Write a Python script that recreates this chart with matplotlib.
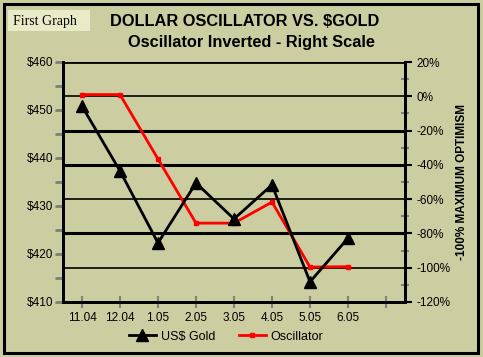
import numpy as np
import matplotlib
matplotlib.use("Agg")
import matplotlib.pyplot as plt
from matplotlib.patches import Rectangle
from matplotlib.ticker import MultipleLocator, FuncFormatter

months = ["11.04", "12.04", "1.05", "2.05", "3.05", "4.05", "5.05", "6.05"]
gold = [450.8, 437.3, 422.3, 434.8, 427.3, 434.4, 414.2, 423.3]
oscillator = [1.0, 1.0, -36.6, -74.0, -74.0, -61.7, -99.6, -99.4]

BG = "#CDCDA2"
GREY = "#808080"
plt.rcParams["font.family"] = ["Liberation Sans", "DejaVu Sans"]

fig = plt.figure(figsize=(4.83, 3.57), dpi=100, facecolor=BG)
ax = fig.add_axes([63 / 483, 1 - 302 / 357, 342 / 483, 240 / 357])
ax.set_facecolor(BG)
ax2 = ax.twinx()

x = np.arange(len(months))
ax.set_xlim(-0.5, len(months) + 0.5)
ax.set_xticks(np.arange(len(months) + 1))
ax.set_xticklabels(months + [""], fontsize=8.5)
ax.tick_params(axis="x", direction="inout", length=9, width=1.5, color=GREY, pad=3)

ax.set_ylim(410, 460)
ax.yaxis.set_major_locator(MultipleLocator(10))
ax.yaxis.set_minor_locator(MultipleLocator(5))
ax.yaxis.set_major_formatter(FuncFormatter(lambda v, _: f"${v:.0f}"))
ax.tick_params(axis="y", which="major", length=6, width=2, color=GREY,
               labelsize=8.5, pad=1)
ax.tick_params(axis="y", which="minor", length=6, width=2, color=GREY)

ax2.set_ylim(-120, 20)
ax2.yaxis.set_major_locator(MultipleLocator(20))
ax2.yaxis.set_minor_locator(MultipleLocator(10))
ax2.yaxis.set_major_formatter(FuncFormatter(lambda v, _: f"{v:.0f}%"))
ax2.tick_params(axis="y", which="major", length=5, width=1.5, color="black",
                labelsize=8.5, pad=3)
ax2.tick_params(axis="y", which="minor", direction="inout", length=6,
                width=1.5, color=GREY)
ax2.set_ylabel("-100% MAXIMUM OPTIMISM", fontsize=8.5, fontweight="bold",
               labelpad=4)

# horizontal gridlines follow the right scale
grid_levels = [20, 0, -20, -40, -60, -80, -100]
grid_widths = [2.0, 1.2, 2.2, 2.2, 1.2, 2.2, 1.2]
for lvl, lw in zip(grid_levels, grid_widths):
    ax2.axhline(lvl, color="black", lw=lw, zorder=1)

for a in (ax, ax2):
    for side in ("left", "right", "bottom"):
        a.spines[side].set_linewidth(2)
    a.spines["top"].set_visible(False)

# gold on top of the oscillator, as in the original
ax.set_zorder(ax2.get_zorder() + 1)
ax.patch.set_visible(False)
ax2.patch.set_facecolor(BG)

ax.plot(x, gold, color="black", lw=2, marker="^", ms=9, label="US$ Gold")
ax2.plot(x, oscillator, color="red", lw=2, marker="s", ms=3.5,
         label="Oscillator", zorder=2)

h1, l1 = ax.get_legend_handles_labels()
h2, l2 = ax2.get_legend_handles_labels()
fig.legend(h1 + h2, l1 + l2, loc="center", bbox_to_anchor=(0.468, 0.057),
           ncol=2, frameon=False, fontsize=9, handlelength=2.2,
           columnspacing=1.9, handletextpad=0.35)

fig.text(245 / 483, 1 - 21 / 357, "DOLLAR OSCILLATOR VS. $GOLD",
         ha="center", va="center", fontsize=11.8, fontweight="bold")
fig.text(251 / 483, 1 - 42 / 357, "Oscillator Inverted - Right Scale",
         ha="center", va="center", fontsize=11.8, fontweight="bold")

fig.patches.append(Rectangle((8 / 483, 1 - 31 / 357), 82 / 483, 21 / 357,
                             transform=fig.transFigure, facecolor="#EAEAC8",
                             edgecolor="none"))
fig.text(13 / 483, 1 - 21 / 357, "First Graph", ha="left", va="center",
         fontsize=10, family=["Liberation Serif", "DejaVu Serif"])

fig.patches.append(Rectangle((4 / 483, 4 / 357), 474 / 483, 349 / 357,
                             transform=fig.transFigure, facecolor="none",
                             edgecolor="black", lw=2.2))

fig.savefig("out.png", dpi=100, facecolor=BG)
